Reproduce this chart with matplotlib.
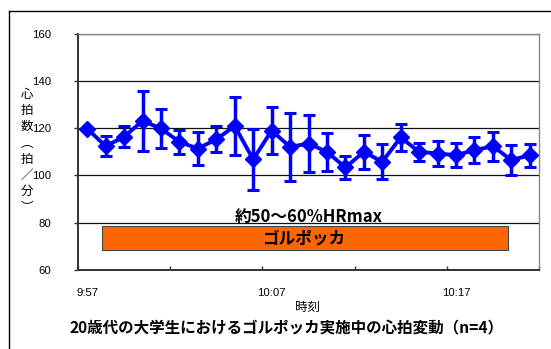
import matplotlib
matplotlib.use("Agg")
import matplotlib.pyplot as plt
from matplotlib.lines import Line2D
from matplotlib.patches import Rectangle
import numpy as np

# ---- data ----
times = ['9:57', '9:58', '9:59', '10:00', '10:01', '10:02', '10:03', '10:04', '10:05', '10:06',
         '10:07', '10:08', '10:09', '10:10', '10:11', '10:12', '10:13', '10:14', '10:15', '10:16',
         '10:17', '10:18', '10:19', '10:20', '10:21']
hr_mean = [119.8, 112.4, 116.4, 123.1, 119.9, 114.2, 111.4, 115.3, 120.9, 106.8,
           119.0, 112.1, 113.5, 110.0, 103.4, 110.0, 105.8, 116.1, 110.0, 109.3,
           108.6, 110.7, 112.4, 106.5, 108.6]
hr_sd = [0.0, 4.2, 4.4, 12.6, 8.2, 4.9, 6.8, 5.5, 12.4, 12.8,
         9.8, 14.5, 12.2, 8.0, 5.0, 7.3, 7.5, 5.8, 3.8, 5.2,
         5.2, 5.6, 6.2, 6.5, 4.9]
label_every = 10
zone_low, zone_high = 68.3, 78.6
zone_start, zone_end = 0.8, 22.8
zone_text = '約50～60%HRmax'
bar_text = 'ゴルポッカ'
title = '20歳代の大学生におけるゴルポッカ実施中の心拍変動（n=4）'
xlabel = '時刻'
ylabel_chars = ['心', '拍', '数', '︵', '拍', '／', '分', '︶']

JP = ['Noto Sans CJK JP', 'DejaVu Sans']
NUM = ['Liberation Sans', 'DejaVu Sans']

fig = plt.figure(figsize=(5.51, 3.49), dpi=100)
ax = fig.add_axes([78/551, 1-270/349, (539-78)/551, (270-33.7)/349])

x = np.arange(len(times))
ax.errorbar(x, hr_mean, yerr=hr_sd, color='#0000FF', lw=2.8, marker='D', ms=8,
            elinewidth=2.5, capsize=4.0, capthick=2.2, zorder=5)

ax.set_xlim(-0.5, len(times) - 0.5)
ax.set_ylim(60, 160)
ax.set_yticks(np.arange(60, 161, 20))
ax.set_yticklabels([str(v) for v in range(60, 161, 20)], family=NUM, fontsize=8.2)
ax.yaxis.grid(True, color='#111111', lw=0.9)
ax.set_axisbelow(True)

lab_pos = x[::label_every]
ax.set_xticks(lab_pos)
ax.set_xticklabels([times[i] for i in lab_pos], family=NUM, fontsize=8.2)
ax.tick_params(axis='x', which='major', length=0, pad=13)
ax.set_xticks(np.arange(-0.5, len(times), 5), minor=True)
ax.tick_params(axis='x', which='minor', direction='in', length=3, width=1, color='#333333')
ax.tick_params(axis='y', direction='out', length=3, width=1, color='#333333', pad=16)

for s in ['left', 'bottom']:
    ax.spines[s].set_color('#333333')
    ax.spines[s].set_linewidth(1.4)
for s in ['top', 'right']:
    ax.spines[s].set_color('#888888')
    ax.spines[s].set_linewidth(1.0)

# orange zone
ax.add_patch(Rectangle((zone_start, zone_low), zone_end - zone_start, zone_high - zone_low,
                       facecolor='#FF6600', edgecolor='#444444', lw=0.8, zorder=3))
ax.text((zone_start + zone_end) / 2, (zone_low + zone_high) / 2, bar_text,
        family=JP, fontsize=12, fontweight='bold', ha='center', va='center', zorder=4)
ax.text(12, 80.5, zone_text, family=JP, fontsize=12, fontweight='bold',
        ha='center', va='baseline', zorder=4)

# labels
fig.text(308/551, 1-307/349, xlabel, family=JP, fontsize=9, ha='center', va='center')
fig.text(27/551, 1-151/349, '\n'.join(ylabel_chars), family=JP, fontsize=9,
         ha='center', va='center', ma='center', linespacing=1.32)
fig.text(286/551, 1-328/349, title, family=JP, fontsize=11.2, fontweight='bold',
         ha='center', va='center')

# outer frame
fig.add_artist(Line2D([8.5/551, 8.5/551], [0, 1-11/349], color='black', lw=1.0,
                      transform=fig.transFigure))
fig.add_artist(Line2D([8.5/551, 1], [1-11/349, 1-11/349], color='black', lw=1.0,
                      transform=fig.transFigure))

fig.savefig('out.png', dpi=100)
